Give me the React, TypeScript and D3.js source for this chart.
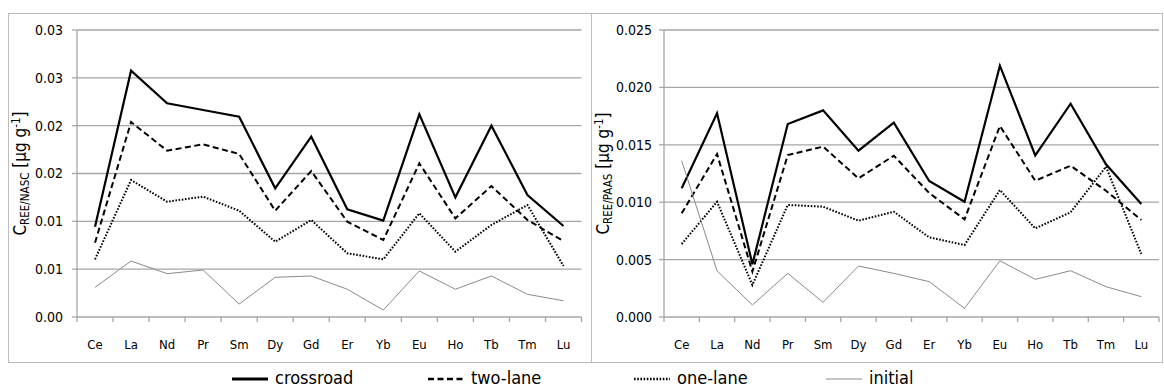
import React from "react";
import * as d3 from "d3";

const categories = ["Ce","La","Nd","Pr","Sm","Dy","Gd","Er","Yb","Eu","Ho","Tb","Tm","Lu"];

// Left panel (NASC normalised)
const nascCrossroad = [0.00944,0.02575,0.02234,0.02164,0.02094,0.01345,0.01885,0.01126,0.01007,0.02119,0.01251,0.02000,0.01275,0.00951];
const nascTwoLane   = [0.00777,0.02038,0.01739,0.01805,0.01704,0.01111,0.01526,0.00996,0.00805,0.01606,0.01031,0.01369,0.01014,0.00794];
const nascOneLane   = [0.00603,0.01432,0.01205,0.01258,0.01111,0.00787,0.01014,0.00666,0.00603,0.01084,0.00683,0.00962,0.01171,0.00533];
const nascInitial   = [0.00310,0.00585,0.00453,0.00491,0.00136,0.00415,0.00429,0.00290,0.00073,0.00481,0.00290,0.00429,0.00237,0.00170];
const nascTickValues = [0,0.005,0.01,0.015,0.02,0.025,0.03];
const nascTickLabels = ["0.00","0.01","0.01","0.02","0.02","0.03","0.03"];

// Right panel (PAAS normalised)
const paasCrossroad = [0.01121,0.01774,0.00460,0.01681,0.01800,0.01449,0.01692,0.01185,0.01004,0.02189,0.01408,0.01858,0.01330,0.00984];
const paasTwoLane   = [0.00903,0.01420,0.00395,0.01411,0.01484,0.01208,0.01405,0.01080,0.00851,0.01664,0.01187,0.01318,0.01100,0.00845];
const paasOneLane   = [0.00636,0.01004,0.00279,0.00976,0.00961,0.00839,0.00917,0.00694,0.00627,0.01106,0.00772,0.00912,0.01309,0.00549];
const paasInitial   = [0.01361,0.00403,0.00105,0.00380,0.00128,0.00444,0.00380,0.00308,0.00076,0.00490,0.00328,0.00403,0.00264,0.00177];
const paasTickValues = [0,0.005,0.01,0.015,0.02,0.025];
const paasTickLabels = ["0.000","0.005","0.010","0.015","0.020","0.025"];

const seriesNames = ["crossroad","two-lane","one-lane","initial"];

const FONT = "'Liberation Sans Narrow','DejaVu Sans Condensed','Liberation Sans',sans-serif";

const styles = [
  { stroke: "#000", width: 2.2, dash: "" },
  { stroke: "#000", width: 2, dash: "6,3.5" },
  { stroke: "#000", width: 2, dash: "1.6,1.6" },
  { stroke: "#8a8a8a", width: 1, dash: "" },
];

type PanelProps = {
  frameX0: number; frameX1: number;
  plotX0: number; plotX1: number;
  yMax: number; tickValues: number[]; tickLabels: string[];
  series: number[][]; sub: string; titleX: number; labelGap: number;
};

function Panel(p: PanelProps) {
  const top = 30, bottom = 317;
  const x = d3.scaleBand<string>().domain(categories).range([p.plotX0, p.plotX1]);
  const y = d3.scaleLinear().domain([0, p.yMax]).range([bottom, top]);
  const line = d3.line<number>()
    .x((_, i) => (x(categories[i]) as number) + x.bandwidth() / 2)
    .y((d) => y(d));
  const bounds = categories.map((c) => x(c) as number).concat([p.plotX1]);
  const midY = (top + bottom) / 2;
  return (
    <g>
      <rect x={p.frameX0 + 0.5} y={13.5} width={p.frameX1 - p.frameX0} height={349} fill="none" stroke="#bdbdbd" strokeWidth={1} />
      {p.tickValues.map((v, i) => (
        <g key={i}>
          {i > 0 && <line x1={p.plotX0} x2={p.plotX1} y1={y(v)} y2={y(v)} stroke="#a6a6a6" strokeWidth={1.3} />}
          <line x1={p.plotX0 - 5} x2={p.plotX0} y1={y(v)} y2={y(v)} stroke="#a6a6a6" strokeWidth={1.3} />
          <text x={p.plotX0 - p.labelGap} y={y(v)} dy="0.35em" textAnchor="end" fontSize={14} fill="#000" fontFamily={FONT}>{p.tickLabels[i]}</text>
        </g>
      ))}
      <line x1={p.plotX0} x2={p.plotX0} y1={top} y2={bottom} stroke="#a6a6a6" strokeWidth={1.3} />
      <line x1={p.plotX0} x2={p.plotX1} y1={bottom} y2={bottom} stroke="#a6a6a6" strokeWidth={1.3} />
      {bounds.map((b, i) => (
        <line key={i} x1={b} x2={b} y1={bottom} y2={bottom + 5} stroke="#a6a6a6" strokeWidth={1.3} />
      ))}
      {categories.map((c) => (
        <text key={c} x={(x(c) as number) + x.bandwidth() / 2} y={344} dy="0.35em" textAnchor="middle" fontSize={13} fontFamily={FONT} fill="#000">{c}</text>
      ))}
      {p.series.map((s, i) => (
        <path key={i} d={line(s) as string} fill="none" stroke={styles[i].stroke} strokeWidth={styles[i].width} strokeDasharray={styles[i].dash} strokeLinejoin="miter" />
      ))}
      <text transform={`translate(${p.titleX},${midY}) rotate(-90)`} textAnchor="middle" fontFamily={FONT} fill="#000" fontSize={17}>
        C<tspan fontSize={11.5} dy={3}>{p.sub}</tspan><tspan dy={-3}> [µg g</tspan><tspan fontSize={11.5} dy={-6}>-1</tspan><tspan dy={6}>]</tspan>
      </text>
    </g>
  );
}

export default function App() {
  const legendX = [232, 428, 634, 826];
  return (
    <svg width={1164} height={388} style={{ position: "absolute", left: 0, top: 0, background: "#fff" }}>
      <rect x={0} y={0} width={1164} height={388} fill="#fff" />
      <Panel frameX0={8} frameX1={591} plotX0={77} plotX1={581.5} yMax={0.03}
        tickValues={nascTickValues} tickLabels={nascTickLabels}
        series={[nascCrossroad, nascTwoLane, nascOneLane, nascInitial]} sub="REE/NASC" titleX={26} labelGap={14} />
      <Panel frameX0={591} frameX1={1162} plotX0={664} plotX1={1159} yMax={0.025}
        tickValues={paasTickValues} tickLabels={paasTickLabels}
        series={[paasCrossroad, paasTwoLane, paasOneLane, paasInitial]} sub="REE/PAAS" titleX={609} labelGap={12} />
      {seriesNames.map((n, i) => (
        <g key={n}>
          <line x1={legendX[i]} x2={legendX[i] + 36} y1={379} y2={379} stroke={styles[i].stroke} strokeWidth={styles[i].width + (i === 3 ? 0 : 0.6)} strokeDasharray={styles[i].dash} />
          <text x={legendX[i] + 43} y={378} dy="0.35em" fontSize={18} fontFamily={FONT} fill="#000">{n}</text>
        </g>
      ))}
    </svg>
  );
}
